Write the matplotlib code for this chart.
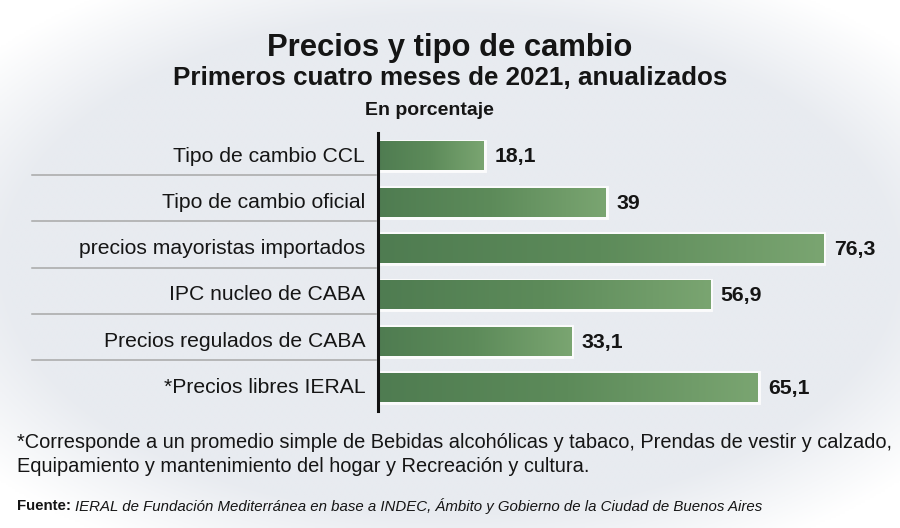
import matplotlib.pyplot as plt
import numpy as np
from matplotlib.colors import LinearSegmentedColormap

# datos
categorias = ["Tipo de cambio CCL", "Tipo de cambio oficial", "precios mayoristas importados",
              "IPC nucleo de CABA", "Precios regulados de CABA", "*Precios libres IERAL"]
valores = [18.1, 39, 76.3, 56.9, 33.1, 65.1]
etiquetas = ["18,1", "39", "76,3", "56,9", "33,1", "65,1"]

titulo = "Precios y tipo de cambio"
subtitulo = "Primeros cuatro meses de 2021, anualizados"
unidad = "En porcentaje"
nota1 = "*Corresponde a un promedio simple de Bebidas alcohólicas y tabaco, Prendas de vestir y calzado,"
nota2 = "Equipamiento y mantenimiento del hogar y Recreación y cultura."
fuente = "IERAL de Fundación Mediterránea en base a INDEC, Ámbito y Gobierno de la Ciudad de Buenos Aires"

plt.rcParams['font.family'] = ["Liberation Sans", "DejaVu Sans"]
tinta = '#151515'

fig = plt.figure(figsize=(9, 5.28), dpi=100)

# fondo con viñeta
bg = fig.add_axes([0, 0, 1, 1])
xx, yy = np.meshgrid(np.linspace(-1, 1, 400), np.linspace(-1, 1, 240))
r = np.sqrt((xx / 1.1) ** 2 + (yy / 1.05) ** 2)
t = np.clip((r - 0.9) / 0.3, 0, 1)
cmap_bg = LinearSegmentedColormap.from_list("bg", ["#e8ebf0", "#ffffff"])
bg.imshow(t, cmap=cmap_bg, extent=(0, 1, 0, 1), aspect='auto', vmin=0, vmax=1)
bg.set_xlim(0, 1)
bg.set_ylim(0, 1)
bg.axis('off')

# titulos
fig.text(0.5, 0.909, titulo, ha='center', va='center', fontsize=22.3, fontweight='bold', color=tinta)
fig.text(0.5, 0.852, subtitulo, ha='center', va='center', fontsize=18.7, fontweight='bold', color=tinta)
fig.text(0.477, 0.790, unidad, ha='center', va='center', fontsize=14, fontweight='bold', color=tinta)

# grafico de barras
ax = fig.add_axes([0.42, 0.2222, 0.58, 0.5261])
ax.axis('off')
ax.patch.set_alpha(0)

cmap_bar = LinearSegmentedColormap.from_list("verde", ["#4f7c51", "#5d8b5a", "#7aa571"])
grad = np.linspace(0, 1, 256).reshape(1, -1)
h = 0.62
for i, (v, lab) in enumerate(zip(valores, etiquetas)):
    ax.add_patch(plt.Rectangle((0, i - h / 2), v, h, facecolor='none', edgecolor='white',
                               linewidth=3.5, alpha=0.85, zorder=2))
    ax.imshow(grad, cmap=cmap_bar, extent=(0, v, i + h / 2, i - h / 2), aspect='auto', zorder=3)
    ax.text(v + 1.8, i + 0.02, lab, ha='left', va='center', fontsize=15.3, fontweight='bold', color=tinta)
ax.set_ylim(len(valores) - 0.5, -0.5)
ax.set_xlim(0, 89.44)
ax.axvline(0, color='#111111', linewidth=2.2, zorder=4, clip_on=False)

# etiquetas de categorias y separadores
for i, c in enumerate(categorias):
    ax.text(-2.2, i, c, ha='right', va='center', fontsize=15.2, color=tinta, clip_on=False)
for i in range(len(categorias) - 1):
    ax.plot([-59.3, -0.4], [i + 0.41, i + 0.41], color='#a8a8a8', linewidth=1.1, clip_on=False)

# notas al pie
fig.text(0.019, 1 - 442 / 528, nota1, ha='left', va='center', fontsize=14.45, color=tinta)
fig.text(0.019, 1 - 467 / 528, nota2, ha='left', va='center', fontsize=14.45, color=tinta)
t1 = fig.text(0.019, 1 - 506 / 528, "Fuente:", ha='left', va='center', fontsize=10.8,
              fontweight='bold', color=tinta)
ax.annotate(fuente, xy=(1, 0.5), xycoords=t1, xytext=(3, 0), textcoords='offset points',
            ha='left', va='center', fontsize=10.8, style='italic', color=tinta,
            annotation_clip=False)

fig.savefig("out.png", dpi=100)
